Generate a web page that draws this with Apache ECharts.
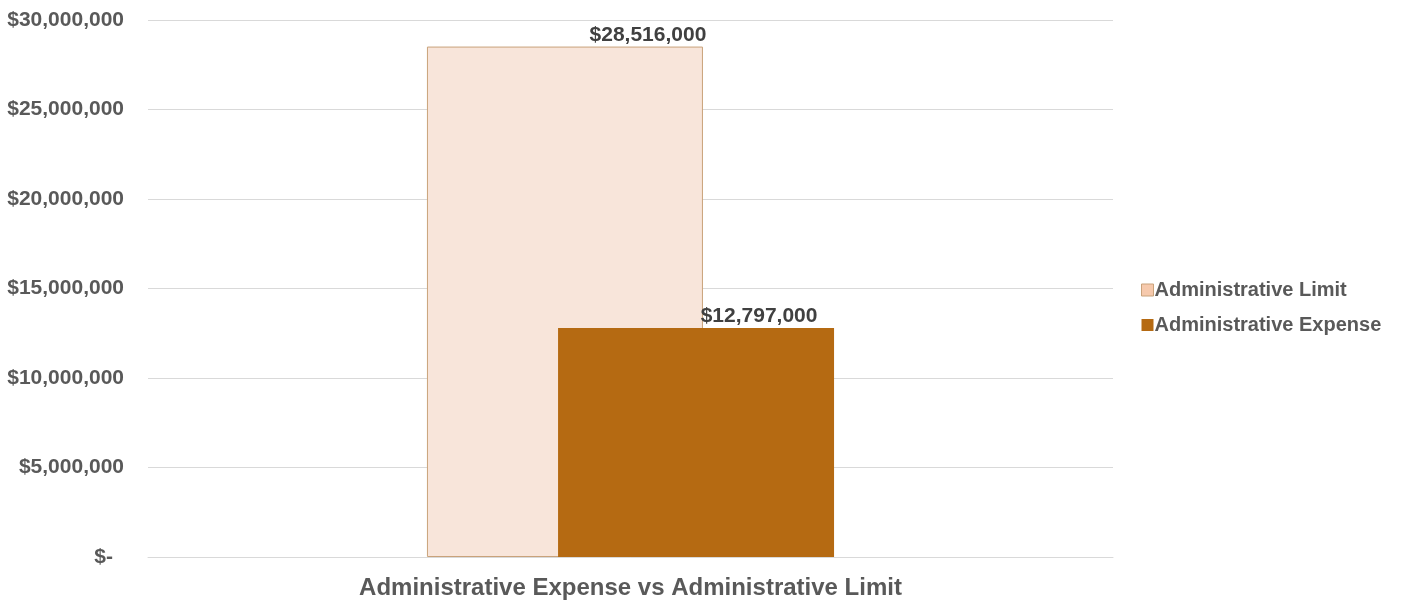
<!DOCTYPE html>
<html>
<head>
<meta charset="utf-8">
<script src="https://cdn.jsdelivr.net/npm/echarts@6/dist/echarts.min.js"></script>
<style>
  html, body { margin: 0; padding: 0; background: #ffffff; }
  #chart { width: 1414px; height: 600px; }
</style>
</head>
<body>
<div id="chart"></div>
<script>
// Chart data
const categories = ['Administrative Expense vs Administrative Limit'];
const limitValues = [28516000];
const expenseValues = [12797000];
const seriesNames = ['Administrative Limit', 'Administrative Expense'];

const TEXT = '#595959';
const FONT = '"Liberation Sans", Arial, sans-serif';

function money(v) {
  return '$' + Math.round(v).toLocaleString('en-US');
}

const chart = echarts.init(document.getElementById('chart'));
chart.setOption({
  animation: false,
  backgroundColor: '#ffffff',
  textStyle: { fontFamily: FONT },
  grid: { left: 148, right: 301, top: 20, bottom: 43 },
  legend: {
    orient: 'vertical',
    left: 1141,
    top: 280,
    padding: 0,
    itemWidth: 12,
    itemHeight: 12,
    itemGap: 15,
    icon: 'rect',
    textStyle: { color: TEXT, fontSize: 20, fontWeight: 'bold', fontFamily: FONT, padding: [0, 0, 0, -4] },
    data: [
      { name: seriesNames[0], itemStyle: { color: '#F6C9AC', borderColor: '#C9A27A', borderWidth: 1 } },
      { name: seriesNames[1], itemStyle: { color: '#B56A12', borderWidth: 0 } }
    ]
  },
  xAxis: {
    type: 'category',
    data: categories,
    axisLine: { show: true, lineStyle: { color: '#D9D9D9', width: 1 } },
    axisTick: { show: false },
    axisLabel: { color: TEXT, fontSize: 24, fontWeight: 'bold', fontFamily: FONT, margin: 19 }
  },
  yAxis: {
    type: 'value',
    min: 0,
    max: 30000000,
    interval: 5000000,
    axisLine: { show: false },
    axisTick: { show: false },
    splitLine: { lineStyle: { color: '#D9D9D9', width: 1 } },
    axisLabel: {
      color: TEXT,
      fontSize: 21,
      fontWeight: 'bold',
      fontFamily: FONT,
      margin: 24,
      formatter: function (v) {
        return v === 0 ? '{z|$-}' : money(v);
      },
      rich: {
        z: { color: TEXT, fontSize: 21, fontWeight: 'bold', fontFamily: FONT, padding: [0, 11, 0, 0] }
      }
    }
  },
  series: [
    {
      name: seriesNames[0],
      type: 'bar',
      data: limitValues,
      barWidth: 276,
      barGap: '-52.5%',
      itemStyle: { color: '#F8E5DA', borderColor: '#C9A27A', borderWidth: 1 },
      label: {
        show: true,
        position: 'top',
        distance: 1,
        offset: [83, 0],
        color: '#404040',
        fontSize: 21,
        fontWeight: 'bold',
        fontFamily: FONT,
        formatter: function (p) { return money(p.value); }
      }
    },
    {
      name: seriesNames[1],
      type: 'bar',
      data: expenseValues,
      barWidth: 276,
      itemStyle: { color: '#B56A12' },
      label: {
        show: true,
        position: 'top',
        distance: 1,
        offset: [63, 0],
        color: '#404040',
        fontSize: 21,
        fontWeight: 'bold',
        fontFamily: FONT,
        formatter: function (p) { return money(p.value); }
      }
    }
  ]
});
</script>
</body>
</html>
